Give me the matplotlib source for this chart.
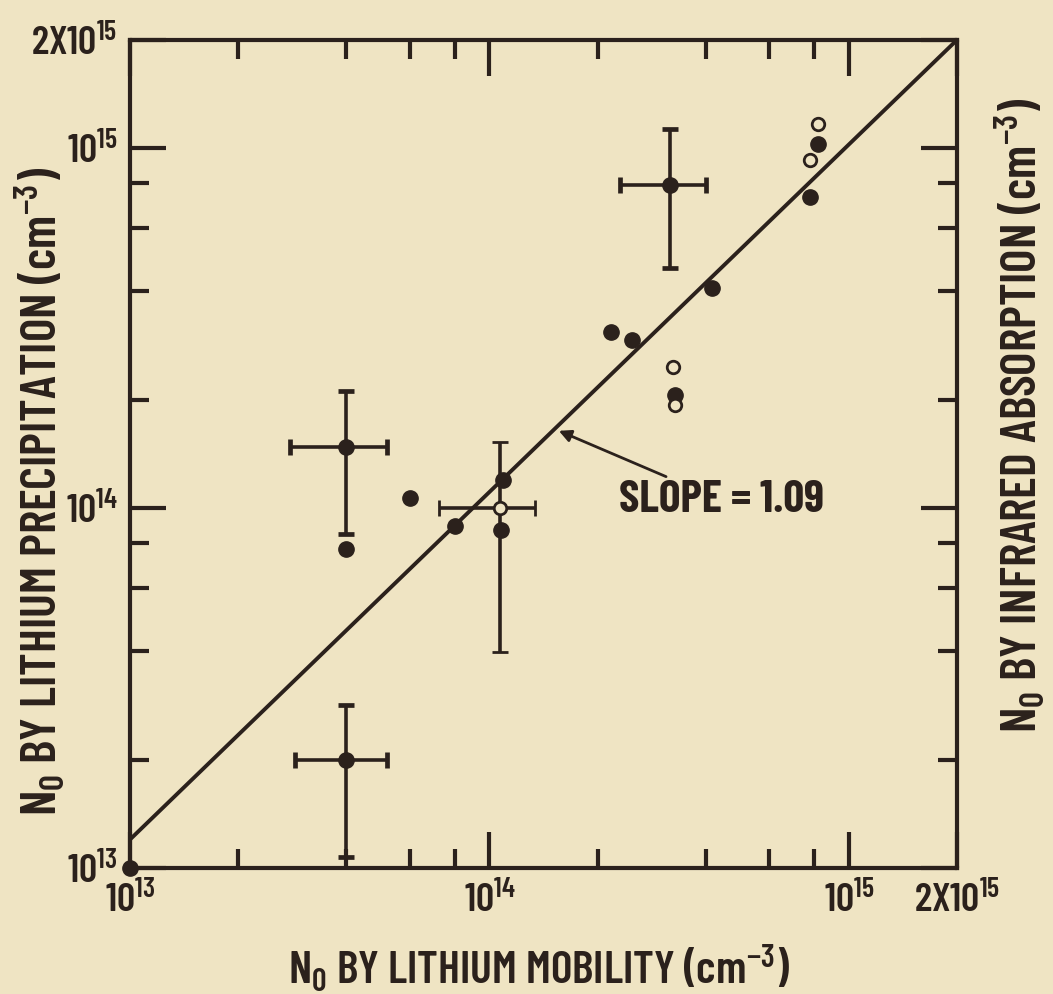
import numpy as np
import matplotlib
matplotlib.use("Agg")
import matplotlib.pyplot as plt
from matplotlib.ticker import FixedLocator, NullFormatter

# colours
bg = "#efe4c3"
ink = "#2b211c"

plt.rcParams["font.family"] = ["Barlow Condensed", "DejaVu Sans"]
plt.rcParams["font.weight"] = "semibold"
plt.rcParams["axes.labelweight"] = "semibold"
plt.rcParams["mathtext.fontset"] = "custom"
plt.rcParams["mathtext.rm"] = "Barlow Condensed:semibold"
plt.rcParams["mathtext.it"] = "Barlow Condensed:semibold"
plt.rcParams["mathtext.bf"] = "Barlow Condensed:bold"

# filled points, no error bars
fx = [1e13, 4.0e13, 6.0e13, 8.0e13, 1.09e14, 1.08e14, 2.18e14, 2.49e14, 4.16e14, 3.28e14, 7.8e14, 8.2e14]
fy = [1e13, 7.7e13, 1.07e14, 8.9e13, 1.2e14, 8.7e13, 3.08e14, 2.93e14, 4.08e14, 2.06e14, 7.3e14, 1.03e15]

# filled points with error bars
ex = [4.0e13, 4.0e13, 3.18e14]
ey = [2.0e13, 1.48e14, 7.9e14]
ex_lo = [2.88e13, 2.79e13, 2.31e14]
ex_hi = [5.19e13, 5.19e13, 4.0e14]
ey_lo = [1.07e13, 8.5e13, 4.64e14]
ey_hi = [2.84e13, 2.11e14, 1.13e15]

# open point with error bars
oex = [1.07e14]
oey = [1.0e14]
oex_lo = [7.24e13]
oex_hi = [1.34e14]
oey_lo = [3.98e13]
oey_hi = [1.53e14]

# open points
ox = [3.24e14, 3.28e14, 7.8e14, 8.2e14]
oy = [2.46e14, 1.93e14, 9.3e14, 1.17e15]

# fitted line
line_x = [1e13, 2e15]
line_y = [1.2e13, 2e15]

major = [1e13, 1e14, 1e15, 2e15]
major_labels = ["$10^{13}$", "$10^{14}$", "$10^{15}$", "2X$10^{15}$"]
minor = [2e13, 4e13, 6e13, 8e13, 2e14, 4e14, 6e14, 8e14]

fig = plt.figure(figsize=(10.53, 9.94), dpi=100, facecolor=bg)
ax = fig.add_axes([0.1235, 0.1268, 0.7853, 0.833])
ax.set_facecolor(bg)
ax.set_xscale("log")
ax.set_yscale("log")
ax.set_xlim(1e13, 2e15)
ax.set_ylim(1e13, 2e15)

ax.plot(line_x, line_y, color=ink, lw=2.8, solid_capstyle="butt")

ex_arr = np.array(ex)
ey_arr = np.array(ey)
ax.errorbar(ex, ey,
            xerr=[ex_arr - np.array(ex_lo), np.array(ex_hi) - ex_arr],
            yerr=[ey_arr - np.array(ey_lo), np.array(ey_hi) - ey_arr],
            fmt="o", color=ink, ms=11, elinewidth=2.6, capsize=5.5, capthick=3.4, zorder=3)

oex_arr = np.array(oex)
oey_arr = np.array(oey)
ax.errorbar(oex, oey,
            xerr=[oex_arr - np.array(oex_lo), np.array(oex_hi) - oex_arr],
            yerr=[oey_arr - np.array(oey_lo), np.array(oey_hi) - oey_arr],
            fmt="o", color=ink, mfc=bg, mec=ink, ms=9, mew=2, elinewidth=2.6,
            capsize=5.5, capthick=3.4, zorder=4)

ax.plot(fx, fy, "o", color=ink, ms=11, clip_on=False, zorder=5)
ax.plot(ox, oy, "o", mfc=bg, mec=ink, ms=9, mew=2, zorder=5)

ax.annotate("SLOPE = 1.09", xy=(1.56e14, 1.64e14), xytext=(2.3e14, 1.05e14),
            fontsize=33, fontweight="bold", color=ink, ha="left", va="center",
            arrowprops=dict(arrowstyle="-|>", color=ink, lw=2, mutation_scale=18,
                            shrinkA=2, shrinkB=0))

for axis in (ax.xaxis, ax.yaxis):
    axis.set_major_locator(FixedLocator(major))
    axis.set_minor_locator(FixedLocator(minor))
    axis.set_minor_formatter(NullFormatter())
ax.set_xticklabels(major_labels)
ax.set_yticklabels(major_labels)

ax.tick_params(which="both", direction="in", top=True, right=True, color=ink,
               labelcolor=ink, labelsize=29)
ax.tick_params(axis="x", pad=10)
ax.tick_params(axis="y", pad=9)
ax.tick_params(which="major", length=26, width=3)
ax.tick_params(which="minor", length=14, width=3)
for s in ax.spines.values():
    s.set_linewidth(3)
    s.set_color(ink)

ax.set_xlabel("N$_0$ BY LITHIUM MOBILITY (cm$^{-3}$)", fontsize=33, color=ink, va="baseline")
ax.xaxis.set_label_coords(0.495, -0.14)
ax.set_ylabel("N$_0$ BY LITHIUM PRECIPITATION (cm$^{-3}$)", fontsize=36, color=ink, va="baseline")
ax.yaxis.set_label_coords(-0.088, 0.455)
ax.text(1.0967, 0.547, "N$_0$ BY INFRARED ABSORPTION (cm$^{-3}$)", transform=ax.transAxes,
        rotation=90, rotation_mode="anchor", fontsize=36, color=ink,
        ha="center", va="baseline")

fig.savefig("out.png", dpi=100, facecolor=bg)
